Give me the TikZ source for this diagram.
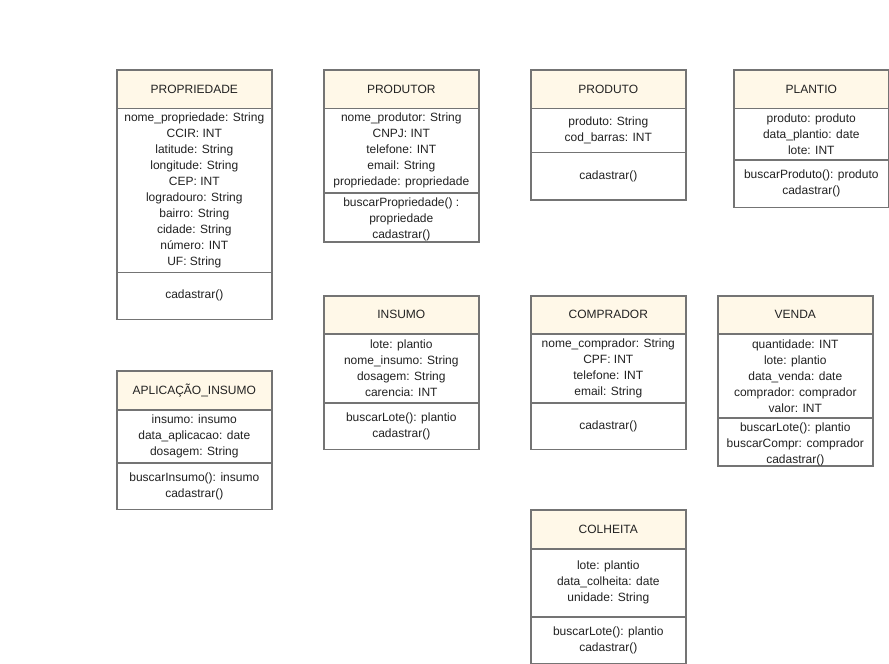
\documentclass[tikz,border=0pt]{standalone}
\usepackage{fontspec}
\setmainfont{Liberation Sans}
\definecolor{edge}{HTML}{747474}
\definecolor{cream}{HTML}{FFF8E8}
\definecolor{ink}{HTML}{222222}
\begin{document}
\begin{tikzpicture}[x=1pt,y=-1pt,
  part/.style={draw=edge, line width=1.6pt, anchor=north west, inner sep=0pt,
    minimum width=155pt},
  hdr/.style={part, fill=cream},
  body/.style={part, fill=white},
  txt/.style={align=center, text=ink, inner sep=0pt,
    font=\fontsize{12}{16}\selectfont}]
\useasboundingbox (0,0) rectangle (889,664);
\fill[white] (0,0) rectangle (889,664);

% PROPRIEDADE
\node[hdr, minimum height=38.5pt] (propH) at (116,69) {};
\node[body, minimum height=164pt] (propA) at (116,107.5) {};
\node[body, minimum height=47pt] (propM) at (116,271.5) {};
\node[txt] (propHt) at (propH.center) {PROPRIEDADE};
\node[txt] (propAt) at (propA.center) {nome\_propriedade: String\\CCIR: INT\\latitude: String\\longitude: String\\CEP: INT\\logradouro: String\\bairro: String\\cidade: String\\número: INT\\UF: String};
\node[txt] (propMt) at (propM.center) {cadastrar()};

% PRODUTOR
\node[hdr, minimum height=38.5pt] (prodrH) at (323,69) {};
\node[body, minimum height=84.5pt] (prodrA) at (323,107.5) {};
\node[body, minimum height=49pt] (prodrM) at (323,192) {};
\node[txt] (prodrHt) at (prodrH.center) {PRODUTOR};
\node[txt] (prodrAt) at (prodrA.center) {nome\_produtor: String\\CNPJ: INT\\telefone: INT\\email: String\\propriedade: propriedade};
\node[txt] (prodrMt) at ([yshift=-2pt]prodrM.center) {buscarPropriedade() :\\propriedade\\cadastrar()};

% PRODUTO
\node[hdr, minimum height=38.5pt] (prodH) at (530,69) {};
\node[body, minimum height=44pt] (prodA) at (530,107.5) {};
\node[body, minimum height=47.5pt] (prodM) at (530,151.5) {};
\node[txt] (prodHt) at (prodH.center) {PRODUTO};
\node[txt] (prodAt) at (prodA.center) {produto: String\\cod\_barras: INT};
\node[txt] (prodMt) at (prodM.center) {cadastrar()};

% PLANTIO
\node[hdr, minimum height=38.5pt] (plH) at (733,69) {};
\node[body, minimum height=51.5pt] (plA) at (733,107.5) {};
\node[body, minimum height=47.5pt] (plM) at (733,159) {};
\node[txt] (plHt) at (plH.center) {PLANTIO};
\node[txt] (plAt) at (plA.center) {produto: produto\\data\_plantio: date\\lote: INT};
\node[txt] (plMt) at (plM.center) {buscarProduto(): produto\\cadastrar()};

% APLICACAO_INSUMO
\node[hdr, minimum height=39pt] (apH) at (116,370) {};
\node[body, minimum height=53pt] (apA) at (116,409) {};
\node[body, minimum height=46.5pt] (apM) at (116,462) {};
\node[txt] (apHt) at (apH.center) {APLICAÇÃO\_INSUMO};
\node[txt] (apAt) at (apA.center) {insumo: insumo\\data\_aplicacao: date\\dosagem: String};
\node[txt] (apMt) at (apM.center) {buscarInsumo(): insumo\\cadastrar()};

% INSUMO
\node[hdr, minimum height=38pt] (inH) at (323,295) {};
\node[body, minimum height=69pt] (inA) at (323,333) {};
\node[body, minimum height=46.5pt] (inM) at (323,402) {};
\node[txt] (inHt) at (inH.center) {INSUMO};
\node[txt] (inAt) at (inA.center) {lote: plantio\\nome\_insumo: String\\dosagem: String\\carencia: INT};
\node[txt] (inMt) at (inM.center) {buscarLote(): plantio\\cadastrar()};

% COMPRADOR
\node[hdr, minimum height=38pt] (coH) at (530,295) {};
\node[body, minimum height=69pt] (coA) at (530,333) {};
\node[body, minimum height=46.5pt] (coM) at (530,402) {};
\node[txt] (coHt) at (coH.center) {COMPRADOR};
\node[txt] (coAt) at (coA.center) {nome\_comprador: String\\CPF: INT\\telefone: INT\\email: String};
\node[txt] (coMt) at (coM.center) {cadastrar()};

% VENDA
\node[hdr, minimum height=38pt] (veH) at (717,295) {};
\node[body, minimum height=84pt] (veA) at (717,333) {};
\node[body, minimum height=48pt] (veM) at (717,417) {};
\node[txt] (veHt) at (veH.center) {VENDA};
\node[txt] (veAt) at (veA.center) {quantidade: INT\\lote: plantio\\data\_venda: date\\comprador: comprador\\valor: INT};
\node[txt] (veMt) at ([yshift=-3pt]veM.center) {buscarLote(): plantio\\buscarCompr: comprador\\cadastrar()};

% COLHEITA
\node[hdr, minimum height=39pt] (chH) at (530,509) {};
\node[body, minimum height=68pt] (chA) at (530,548) {};
\node[body, minimum height=47pt] (chM) at (530,616) {};
\node[txt] (chHt) at (chH.center) {COLHEITA};
\node[txt] (chAt) at (chA.center) {lote: plantio\\data\_colheita: date\\unidade: String};
\node[txt] (chMt) at (chM.center) {buscarLote(): plantio\\cadastrar()};
\end{tikzpicture}
\end{document}
